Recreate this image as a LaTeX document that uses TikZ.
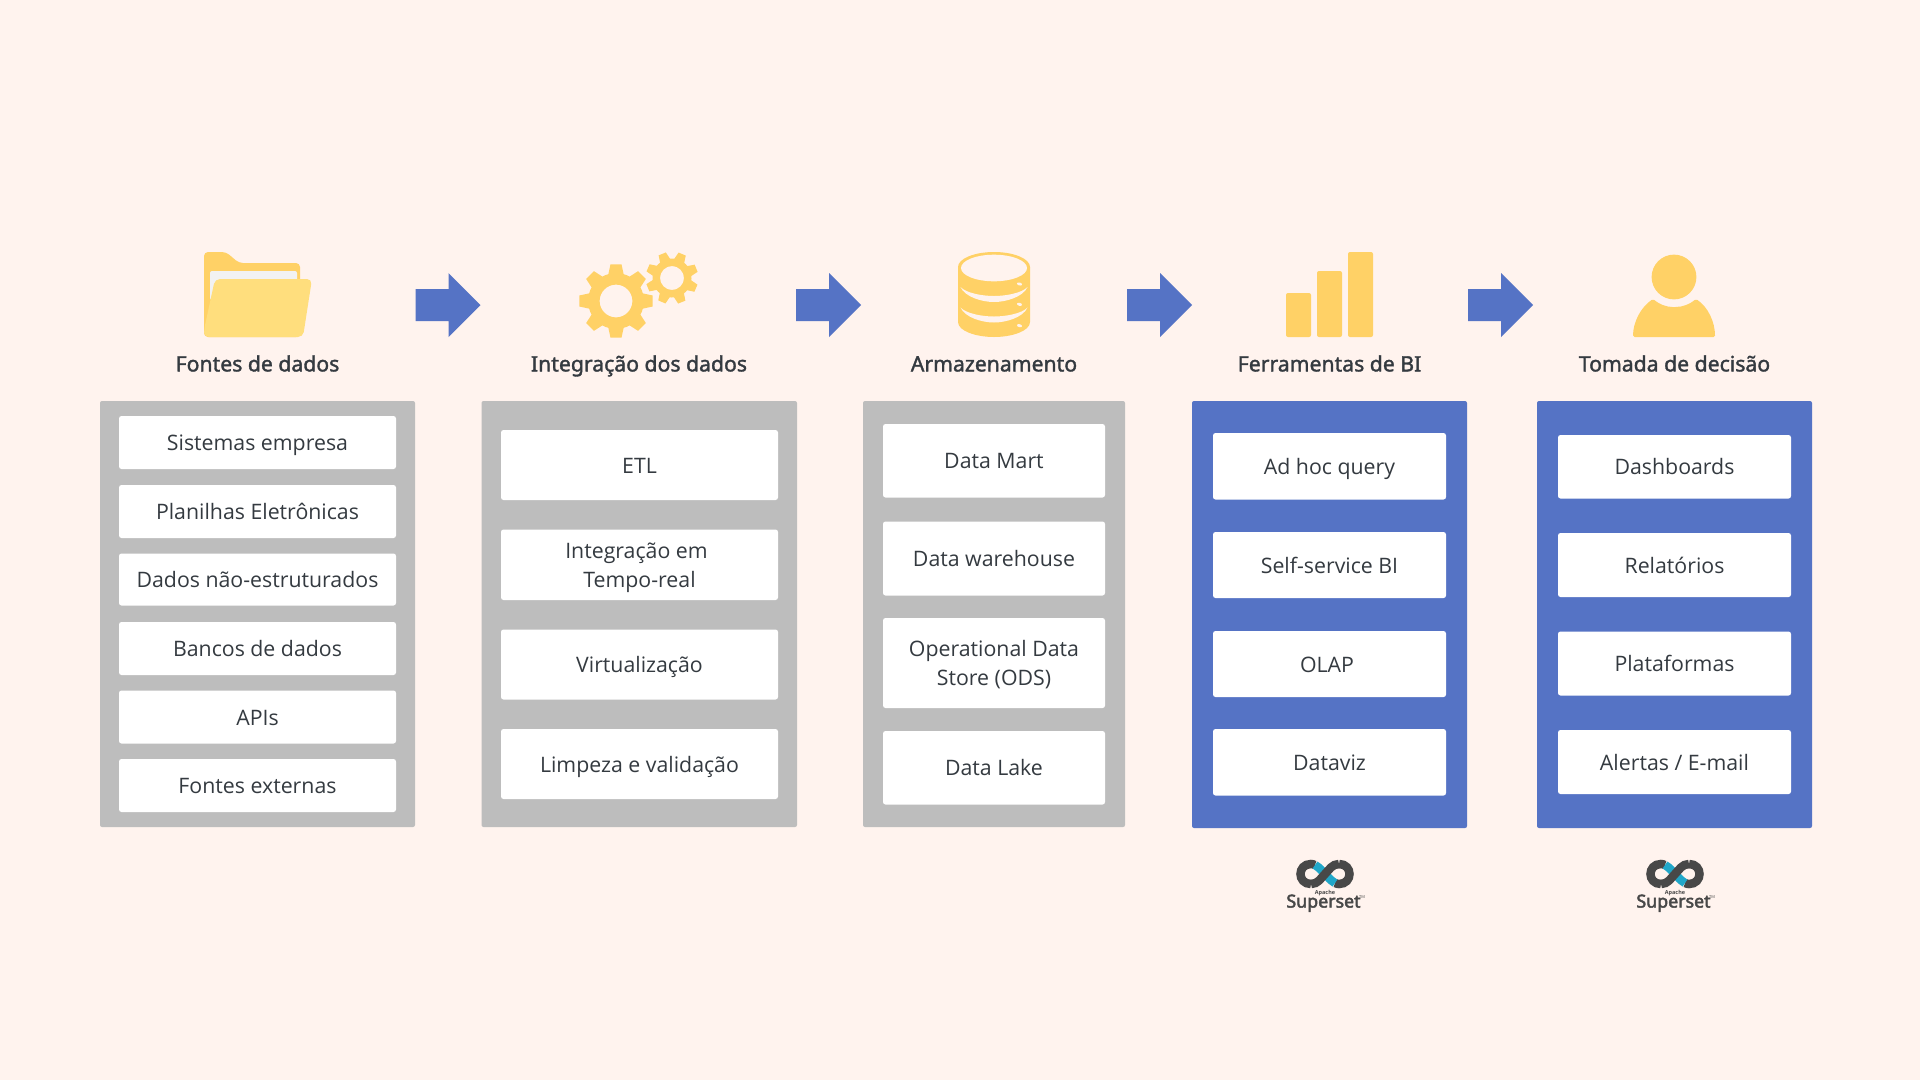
\documentclass[tikz,border=0pt]{standalone}
\usepackage{fontspec}
\setmainfont{Open Sans}
\newfontfamily\titlefont[FakeBold=1.6]{Noto Sans}
\newfontfamily\logofont[FakeBold=2.6]{Noto Sans}
\definecolor{bgc}{HTML}{FFF3EE}
\definecolor{greyp}{HTML}{BDBDBD}
\definecolor{bluep}{HTML}{5573C5}
\definecolor{ink}{HTML}{343A40}
\definecolor{icon}{HTML}{FFD166}
\definecolor{iconl}{HTML}{FFDE7D}
\definecolor{logod}{HTML}{484848}
\definecolor{logob}{HTML}{20A7C9}
\tikzset{
  panelgrey/.style={fill=greyp,rounded corners=2pt},
  panelblue/.style={fill=bluep,rounded corners=2pt},
  itembox/.style={fill=white,rounded corners=2.5pt},
  itemtext/.style={text=ink,font=\fontsize{21.3}{29.4}\selectfont,align=center,yshift=-2.2pt},
  head/.style={text=ink,font=\titlefont\fontsize{21.2}{26}\selectfont,anchor=center,text height=16,text depth=6,yshift=-2.4pt},
  flow/.style={fill=bluep},
  logofig/.style={draw=logod,line width=8.5pt},
}
\newcommand{\itemat}[6]{% name x1 y1 x2 y2 text
  \fill[itembox] (#2,#3) rectangle (#4,#5);
  \node[itemtext] (#1) at ({(#2+#4)/2},{(#3+#5)/2}) {\strut #6\strut};}
\newcommand{\arrowat}[2]{% name x
  \fill[flow] (#2,289) -- (#2+33,289) -- (#2+33,273) -- (#2+65,305) -- (#2+33,337) -- (#2+33,321) -- (#2,321) -- cycle;}
\newcommand{\gearat}[6]{% cx cy Router Rbody Rhole rot
  \begin{scope}[shift={(#1,#2)},rotate=#6]
  \fill[icon,even odd rule] (0,0) circle[radius=#4]
     (0,0) circle[radius=#5];
  \foreach \a in {0,45,...,315}{
    \fill[icon,rotate=\a] (#4-1.5,-#3*0.21) -- (#3,-#3*0.15) -- (#3,#3*0.15) -- (#4-1.5,#3*0.21) -- cycle;}
  \end{scope}}
\newcommand{\logoat}[2]{% cx name
  \begin{scope}[shift={(#1,0)}]
  \draw[logofig] (-10,865) .. controls (-11.5,864.3) and (-13,864) .. (-14,864) .. controls (-21,864) and (-24.5,869) .. (-24.5,874) .. controls (-24.5,879) and (-21,884) .. (-14,884);
  \draw[logofig] (10,883) .. controls (11.5,883.7) and (13,884) .. (14,884) .. controls (21,884) and (24.5,879) .. (24.5,874) .. controls (24.5,869) and (21,864) .. (14,864);
  \draw[line width=8.5pt,logob] (-10,865) .. controls (-5,868) and (-3,871) .. (0,874) .. controls (3,877) and (5,880) .. (10,883);
  \draw[line width=8.5pt,logod] (-14,884) .. controls (-7,884) and (-4,878) .. (0,874) .. controls (4,870) and (7,864) .. (14,864);
  \node[text=logod,font=\bfseries\fontsize{5.5}{5.5}\selectfont,inner sep=0pt] (#2a) at (0,893) {Apache};
  \node[text=logod,font=\logofont\fontsize{17.8}{17.8}\selectfont,inner sep=0pt,text height=13,text depth=4] (#2b) at (-1.5,903) {Superset};
  \node[text=logod,font=\fontsize{4}{4}\selectfont,inner sep=0pt] (#2c) at (37,897) {TM};
  \end{scope}}
\begin{document}
\begin{tikzpicture}[x=1pt,y=-1pt]
\useasboundingbox (0,0) rectangle (1920,1080);
\fill[bgc] (0,0) rectangle (1920,1080);
% panels
\fill[panelgrey] (100,401) rectangle (415,827);
\fill[panelgrey] (481.5,401) rectangle (797,827);
\fill[panelgrey] (863,401) rectangle (1125,827);
\fill[panelblue] (1192,401) rectangle (1467,828);
\fill[panelblue] (1537,401) rectangle (1812,828);
% items 1
\itemat{a1}{119}{416}{396}{469}{Sistemas empresa}
\itemat{a2}{119}{485}{396}{538}{Planilhas Eletrônicas}
\itemat{a3}{119}{553.5}{396}{605.5}{Dados não-estruturados}
\itemat{a4}{119}{622}{396}{675}{Bancos de dados}
\itemat{a5}{119}{690.5}{396}{743.5}{APIs}
\itemat{a6}{119}{759}{396}{812}{Fontes externas}
% items 2
\itemat{b1}{501}{430}{778}{500}{ETL}
\itemat{b2}{501}{529.5}{778}{600}{Integração em\rule{6pt}{0pt}\\Tempo-real}
\itemat{b3}{501}{629.5}{778}{699.5}{Virtualização}
\itemat{b4}{501}{729}{778}{799}{Limpeza e validação}
% items 3
\itemat{c1}{883}{424}{1105}{497.5}{Data Mart}
\itemat{c2}{883}{521.5}{1105}{595.5}{Data warehouse}
\itemat{c3}{883}{618}{1105}{708}{Operational Data\\Store (ODS)}
\itemat{c4}{883}{731}{1105}{804.5}{Data Lake}
% items 4
\itemat{d1}{1213}{433}{1446}{499.5}{Ad hoc query}
\itemat{d2}{1213}{532}{1446}{598}{Self-service BI}
\itemat{d3}{1213}{631}{1446}{697}{OLAP\hspace{5pt}}
\itemat{d4}{1213}{729}{1446}{795.5}{Dataviz}
% items 5
\itemat{e1}{1558}{435}{1791}{498.5}{Dashboards}
\itemat{e2}{1558}{533}{1791}{597}{Relatórios}
\itemat{e3}{1558}{631.5}{1791}{695.5}{Plataformas}
\itemat{e4}{1558}{730}{1791}{794}{Alertas / E-mail}
% titles
\node[head] (t1) at (257.5,364) {Fontes de dados};
\node[head] (t2) at (639,364) {Integração dos dados};
\node[head] (t3) at (994,364) {Armazenamento};
\node[head] (t4) at (1329.5,364) {Ferramentas de BI};
\node[head] (t5) at (1674.5,364) {Tomada de decisão};
% arrows
\arrowat{f1}{415.5}
\arrowat{f2}{796}
\arrowat{f3}{1127}
\arrowat{f4}{1468}
% folder
\fill[icon,rounded corners=4pt] (204,337) -- (204,252) -- (226,252) -- (239,263) -- (300,263) -- (300,337) -- cycle;
\fill[white!90!gray,rounded corners=2pt] (210,271) rectangle (297,300);
\fill[iconl,rounded corners=5pt] (204,337) -- (204,330) -- (215,279) -- (312,279) -- (303,337) -- cycle;
% gears
\gearat{616}{301}{36.7}{28}{16.4}{0}
\gearat{672}{278}{26}{19.5}{12}{22}
% database
\fill[icon] (958,267) -- (958,322) .. controls (958,331) and (976,337) .. (994,337) .. controls (1012,337) and (1030,331) .. (1030,322) -- (1030,267) -- cycle;
\fill[icon] (994,267) ellipse[x radius=36,y radius=15];
\fill[bgc] (994,268) ellipse[x radius=33,y radius=13.3];
\foreach \dy in {0,20.5}{
\fill[bgc,yshift=-\dy pt] (960.5,287) .. controls (965,297) and (982,302) .. (994,302) .. controls (1006,302) and (1023,297) .. (1027.5,287) .. controls (1022,293) and (1006,296) .. (994,296) .. controls (982,296) and (966,293) .. (960.5,287) -- cycle;}
\foreach \yy in {284,304.3,325.7}{\fill[bgc,rotate around={-15:(1019.5,\yy)}] (1019.5,\yy) ellipse[x radius=2.6,y radius=1.5];}
% bars
\fill[icon,rounded corners=2pt] (1286,293) rectangle (1311,337);
\fill[icon,rounded corners=2pt] (1317,271) rectangle (1342,337);
\fill[icon,rounded corners=2pt] (1348,252) rectangle (1373,337);
% person
\fill[icon] (1674,277) circle[radius=22.4];
\fill[icon,rounded corners=1.5pt] (1633,337) .. controls (1633,322) and (1641,307) .. (1653,299) .. controls (1659,304) and (1666,307) .. (1674,307) .. controls (1683,307) and (1690,304) .. (1696,299) .. controls (1708,307) and (1715,322) .. (1715,337) -- cycle;
% logos
\logoat{1325}{l}
\logoat{1675}{m}
\end{tikzpicture}
\end{document}
